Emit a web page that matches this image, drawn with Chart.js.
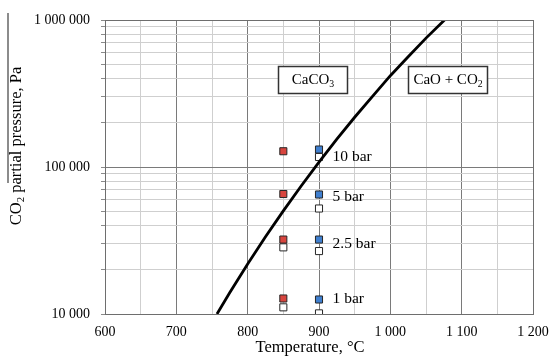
<!DOCTYPE html>
<html><head><meta charset="utf-8">
<script src="https://cdn.jsdelivr.net/npm/chart.js@4"></script>
<style>html,body{margin:0;padding:0;background:#fff}#wrap{width:549px;height:356px;position:relative}</style>
</head><body><div id="wrap"><canvas id="c"></canvas></div>
<script>
// ---- data ----
const curveTemps = [757, 775, 800, 825, 850, 875, 900, 925, 950, 975, 1000, 1025, 1050, 1076];
const curvePressures = [10000, 14000, 21900, 33500, 50300, 74300, 108000, 154500, 218000, 302700, 418000, 562000, 753000, 1000000];

const redTemps = [850, 850, 850, 850];
const redPressures = [128000, 65500, 32100, 12750];
const blueTemps = [900, 900, 900, 900];
const bluePressures = [131500, 65000, 32100, 12550];
const open850Temps = [850, 850];
const open850Pressures = [28400, 11100];
const open900Temps = [900, 900, 900, 900];
const open900Pressures = [117000, 52200, 26800, 10100];

const pressureLabels = ['10 bar', '5 bar', '2.5 bar', '1 bar'];
const pressureLabelTemp = 919;
const pressureLabelValues = [117000, 62500, 29900, 12650];

const xTickValues = [600, 700, 800, 900, 1000, 1100, 1200];
const yTickValues = [10000, 100000, 1000000];
const xTitle = 'Temperature, °C';
const yTitleParts = [{t: 'CO'}, {t: '2', sub: true}, {t: ' partial pressure, Pa'}];

const FONT = "'Liberation Serif', 'Times New Roman', serif";
const zip = (xs, ys) => xs.map((v, i) => ({x: v, y: ys[i]}));
const fmt = v => Math.round(v).toString().replace(/\B(?=(\d{3})+(?!\d))/g, ' ');

const phaseBoxes = [
  {parts: [{t: 'CaCO'}, {t: '3', sub: true}], x0: 842, x1: 938.6, y0: 318000, y1: 486000},
  {parts: [{t: 'CaO + CO'}, {t: '2', sub: true}], x0: 1024.7, x1: 1135.5, y0: 318000, y1: 486000}
];

function richWidth(ctx, parts, size) {
  let w = 0;
  parts.forEach(p => { ctx.font = (p.sub ? size * 0.65 : size) + 'px ' + FONT; w += ctx.measureText(p.t).width; });
  return w;
}
function drawRich(ctx, parts, cx, cy, size) {
  const w = richWidth(ctx, parts, size);
  let x = cx - w / 2;
  ctx.textBaseline = 'middle';
  ctx.textAlign = 'left';
  parts.forEach(p => {
    ctx.font = (p.sub ? size * 0.65 : size) + 'px ' + FONT;
    ctx.fillText(p.t, x, p.sub ? cy + size * 0.28 : cy);
    x += ctx.measureText(p.t).width;
  });
}

const annot = {
  id: 'annot',
  beforeDraw(chart) {
    const ctx = chart.ctx;
    ctx.save();
    ctx.strokeStyle = '#666';
    ctx.lineWidth = 1.5;
    ctx.beginPath(); ctx.moveTo(8, 13); ctx.lineTo(8, 183); ctx.stroke();
    ctx.restore();
  },
  afterDraw(chart) {
    const ctx = chart.ctx;
    const a = chart.chartArea;
    ctx.save();
    ctx.fillStyle = '#000';
    // axis titles
    ctx.font = '16.5px ' + FONT;
    ctx.textAlign = 'center';
    ctx.textBaseline = 'middle';
    ctx.fillText(xTitle, (a.left + a.right) / 2 - 9, 348);
    ctx.translate(17, (a.top + a.bottom) / 2 - 21);
    ctx.rotate(-Math.PI / 2);
    drawRich(ctx, yTitleParts, 0, 0, 16.5);
    ctx.restore();
  },
  afterDatasetsDraw(chart) {
    const {ctx, scales: {x, y}} = chart;
    ctx.save();
    ctx.fillStyle = '#000';
    phaseBoxes.forEach(b => {
      const l = Math.round(x.getPixelForValue(b.x0)) + 0.5, r = Math.round(x.getPixelForValue(b.x1)) + 0.5;
      const t = Math.round(y.getPixelForValue(b.y1)) + 0.5, bt = Math.round(y.getPixelForValue(b.y0)) + 0.5;
      ctx.fillStyle = '#fff';
      ctx.fillRect(l, t, r - l, bt - t);
      ctx.strokeStyle = '#333';
      ctx.lineWidth = 1.5;
      ctx.strokeRect(l, t, r - l, bt - t);
      ctx.fillStyle = '#000';
      drawRich(ctx, b.parts, (l + r) / 2, (t + bt) / 2, 15);
    });
    ctx.font = '15.5px ' + FONT;
    ctx.textAlign = 'left';
    ctx.textBaseline = 'middle';
    pressureLabels.forEach((s, i) => {
      ctx.fillText(s, x.getPixelForValue(pressureLabelTemp), y.getPixelForValue(pressureLabelValues[i]));
    });
    // frame
    const a = chart.chartArea;
    ctx.strokeStyle = '#6e6e6e';
    ctx.lineWidth = 1;
    ctx.strokeRect(Math.round(a.left) + 0.5, Math.round(a.top) + 0.5, Math.round(a.right - a.left), Math.round(a.bottom - a.top));
    ctx.restore();
  }
};

const sq = (bg) => ({
  type: 'scatter', showLine: false, pointStyle: 'rect', pointRadius: 5, pointHoverRadius: 5,
  pointBackgroundColor: bg, pointBorderColor: '#262626', pointBorderWidth: 1, borderColor: '#262626', backgroundColor: bg
});

new Chart(document.getElementById('c'), {
  type: 'scatter',
  data: {
    datasets: [
      {label: 'Equilibrium', type: 'line', data: zip(curveTemps, curvePressures), borderColor: '#000', borderWidth: 2.8,
       pointRadius: 0, fill: false, tension: 0},
      Object.assign({label: '850 °C', data: zip(redTemps, redPressures)}, sq('#d8453e')),
      Object.assign({label: '900 °C', data: zip(blueTemps, bluePressures)}, sq('#3f7fcf')),
      Object.assign({label: '850 °C calc', data: zip(open850Temps, open850Pressures)}, sq('#ffffff')),
      Object.assign({label: '900 °C calc', data: zip(open900Temps, open900Pressures)}, sq('#ffffff'))
    ]
  },
  options: {
    responsive: true, maintainAspectRatio: false, animation: false,
    layout: {padding: {top: 20, right: 16, left: 0, bottom: 0}},
    plugins: {legend: {display: false}, tooltip: {enabled: false}},
    scales: {
      x: {
        type: 'linear', min: 600, max: 1200,
        afterFit: s => { s.height = 42; s.paddingRight = 0; s.paddingLeft = 0; },
        afterBuildTicks: s => { s.ticks = []; for (let v = 600; v <= 1200; v += 50) s.ticks.push({value: v}); },
        ticks: {color: '#000', font: {family: FONT, size: 14}, padding: 10, maxRotation: 0, autoSkip: false,
                callback: v => xTickValues.includes(v) ? fmt(v) : ''},
        grid: {drawTicks: false, lineWidth: 1,
               color: c => (c.tick && c.tick.value % 100 === 0) ? '#7a7a7a' : '#cfcfcf'},
        border: {color: '#6e6e6e'},
        title: {display: false, text: xTitle}
      },
      y: {
        type: 'logarithmic', min: 10000, max: 1000000,
        afterFit: s => { s.width = 105; s.paddingTop = 0; s.paddingBottom = 0; },
        afterBuildTicks: s => {
          const t = [];
          for (let e = 4; e <= 6; e++) for (let m = 1; m <= 9; m++) { const v = m * Math.pow(10, e); if (v <= 1000000) t.push({value: v}); }
          s.ticks = t;
        },
        ticks: {color: '#000', font: {family: FONT, size: 14}, padding: 11, autoSkip: false,
                callback: v => yTickValues.includes(v) ? fmt(v) : ''},
        grid: {drawTicks: true, tickLength: 4, lineWidth: 1,
               color: c => (c.tick && yTickValues.includes(c.tick.value)) ? '#7a7a7a' : '#cfcfcf',
               tickColor: '#8a8a8a'},
        border: {color: '#6e6e6e'},
        title: {display: false, text: 'CO₂ partial pressure, Pa'}
      }
    }
  },
  plugins: [annot]
});
</script>
</body></html>
